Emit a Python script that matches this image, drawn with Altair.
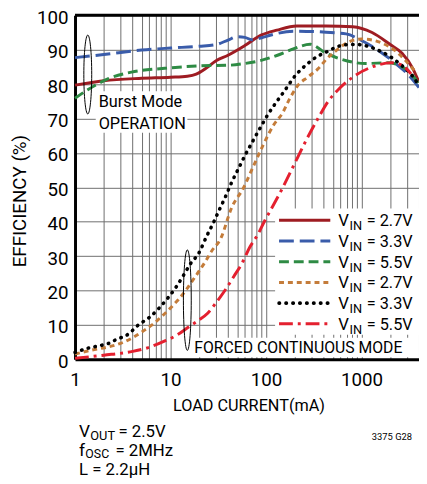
import altair as alt
import pandas as pd

FONT = "Roboto, Liberation Sans, sans-serif"

# ---------------- data ----------------
series_names = ["2.7V Burst", "3.3V Burst", "5.5V Burst",
                "2.7V Forced", "3.3V Forced", "5.5V Forced"]
legend_vin = ["2.7V", "3.3V", "5.5V", "2.7V", "3.3V", "5.5V"]

i_b27 = [1, 2, 5, 10, 15, 18.6, 23.5, 30, 40, 60, 90, 130, 210, 425, 810, 1290, 2000, 2660, 3440, 4000]
e_b27 = [79.7, 81, 81.7, 82, 82.3, 82.9, 84.6, 86.8, 88.4, 91.2, 94.3, 95.7, 96.9, 96.9, 96.7, 95, 91.5, 89, 84.6, 80.5]

i_b33 = [1, 2, 5, 10, 20, 30, 40, 50, 60, 71, 90, 113, 195, 425, 690, 1000, 1500, 2230, 3100, 4000]
e_b33 = [87.7, 88.6, 89.9, 90.5, 91, 91.5, 92.8, 93.8, 93.6, 92.9, 93.5, 94.3, 95.4, 95.1, 94.6, 92.7, 89.8, 86.2, 82.7, 79]

i_b55 = [1, 1.4, 2.2, 3.9, 8.7, 20, 41, 60, 89, 132, 196, 290, 430, 590, 1100, 1900, 2450, 3200, 4000]
e_b55 = [75.9, 78.6, 81.5, 83.5, 84.6, 85.3, 85.5, 86, 86.9, 88.4, 90.3, 91.6, 88.9, 87.4, 86, 86.2, 85.5, 83.5, 80]

i_f27 = [1, 1.5, 2.23, 3.3, 5.1, 6.4, 8.1, 9.9, 12.1, 14.5, 17.2, 20.1, 23.5, 27, 33.4, 44, 58, 73.4, 93,
         122, 149, 175, 211, 279, 355, 430, 535, 640, 810, 1000, 1300, 1650, 2230, 2970, 3800]
e_f27 = [1.5, 2.7, 3.6, 5.1, 8.1, 10, 12.5, 14.8, 17.4, 20.1, 23.1, 25.8, 28.7, 31.5, 35, 44.3, 49.8, 56, 62.2,
         68.4, 71.6, 75.5, 79.3, 82.2, 84.6, 87.3, 89.6, 91.3, 92.7, 93.1, 92.8, 91.9, 89.8, 86.5, 83.1]

i_f33 = [1, 1.39, 1.76, 2.23, 2.82, 3.43, 4.0, 4.52, 5.96, 7.42, 9.3, 11.3, 13.6, 16.1, 19.8, 24, 27.9,
         32.2, 37.1, 44.1, 51.6, 60.3, 71.6, 89.5, 106, 127, 155, 203, 256, 338, 448, 545, 740, 920,
         1200, 1650, 2150, 2750, 3340, 3850]
e_f33 = [2, 3.3, 3.9, 4.6, 6, 6.9, 8.4, 9.8, 12.1, 14.6, 17.7, 20.8, 24.3, 27.7, 30.9, 35.9, 39.5,
         43.3, 46.9, 51.7, 55.5, 59.3, 63.1, 67.9, 71.4, 74.6, 77.9, 82.5, 85.3, 87.9, 89.6, 90.8, 91.5, 91.5,
         90.9, 89.3, 87.4, 85, 82.7, 80.3]

i_f55 = [1, 2, 4, 6, 8.5, 11.6, 15.3, 19.3, 24.5, 31, 37.7, 46, 56, 68, 83, 97, 113, 149, 196, 268,
         355, 448, 590, 808, 1290, 2060, 2660, 3300]
e_f55 = [0.3, 1.2, 2.3, 3.5, 5.2, 7, 9.3, 11.2, 13.4, 17, 20.3, 24.1, 27.9, 32.7, 36.5, 40.3, 43.6, 49.8, 56.5, 64.1,
         70.3, 75, 78.8, 82, 85, 86.2, 85.5, 83]

xs = [i_b27, i_b33, i_b55, i_f27, i_f33, i_f55]
ys = [e_b27, e_b33, e_b55, e_f27, e_f33, e_f55]

grid_x = [1, 2, 3, 4, 5, 6, 7, 8, 9, 10, 20, 30, 40, 50, 60, 70, 80, 90,
          100, 200, 300, 400, 500, 600, 700, 800, 900, 1000, 2000, 3000, 4000]
grid_y = [0, 10, 20, 30, 40, 50, 60, 70, 80, 90, 100]

# ---------------- styles ----------------
colors = ["#9E1C22", "#3A5CAA", "#2E8B44", "#C47C3A", "#000000", "#E4202F"]
dashes = [None, [15, 6], [10, 5], [5, 4], [0.5, 6.5], [14, 5, 3, 5]]
caps = ["butt", "butt", "butt", "butt", "round", "butt"]
widths = [3, 3, 3, 3, 3.6, 3]

W, H = 349, 349

rows = []
for name, cx, cy in zip(series_names, xs, ys):
    for a, b in zip(cx, cy):
        rows.append({"series": name, "current": a, "eff": b})
df = pd.DataFrame(rows)

x_enc = alt.X(
    "current:Q",
    scale=alt.Scale(type="log", domain=[1, 4000], nice=False),
    axis=alt.Axis(
        values=grid_x,
        labelExpr="(datum.value == 1 || datum.value == 10 || datum.value == 100 || datum.value == 1000) ? format(datum.value, 'd') : ''",
        labelOverlap=False, labelBound=False, labelFlush=False,
        ticks=False, labelFont=FONT, labelFontSize=19, labelColor="black", labelPadding=12,
        domainColor="black", domainWidth=3, gridColor="#6e6e6e", gridWidth=1,
        title="LOAD CURRENT(mA)", titleFont=FONT, titleFontSize=16.5, titleFontWeight="normal",
        titleColor="black", titleX=176, titleY=47, titleAlign="center", titleBaseline="middle",
    ),
)
y_enc = alt.Y(
    "eff:Q",
    scale=alt.Scale(domain=[0, 100], nice=False),
    axis=alt.Axis(
        values=grid_y, ticks=False, labelFont=FONT, labelFontSize=19, labelColor="black",
        labelPadding=7, labelOffset=2, labelOverlap=False, labelFlush=False,
        domainColor="black", domainWidth=3, gridColor="#6e6e6e", gridWidth=1,
        title="EFFICIENCY (%)", titleFont=FONT, titleFontSize=19, titleFontWeight="normal",
        titleColor="black", titleX=-56, titleY=188, titleAngle=270,
        titleAlign="center", titleBaseline="middle",
    ),
)

one = pd.DataFrame({"k": [0]})


def box(x1, x2, y1, y2):
    return alt.Chart(one).mark_rect(fill="white", stroke=None).encode(
        x=alt.value(x1), x2=alt.value(x2), y=alt.value(y1), y2=alt.value(y2))


def txt(x, y, s, size=16, align="left"):
    return alt.Chart(one).mark_text(
        text=s, font=FONT, fontSize=size, align=align, baseline="alphabetic", color="black"
    ).encode(x=alt.value(x), y=alt.value(y))


layers = []
# white backgrounds behind annotations / legend
layers.append(box(21, 114, 77, 119))
layers.append(box(203, W, 196, 324))
layers.append(box(118, 346, 327, 347))

# curves
for k, name in enumerate(series_names):
    mk = dict(color=colors[k], strokeWidth=widths[k], interpolate="monotone", strokeCap=caps[k])
    if dashes[k] is not None:
        mk["strokeDash"] = dashes[k]
    layers.append(
        alt.Chart(df).transform_filter(alt.datum.series == name).mark_line(**mk).encode(x=x_enc, y=y_enc)
    )

# top border
layers.append(alt.Chart(one).mark_rule(color="black", strokeWidth=3).encode(
    x=alt.value(0), x2=alt.value(W), y=alt.value(0)))

# ellipses (annotation markers)
ell = "M0,-1 C0.055,-1 0.1,-0.55 0.1,0 C0.1,0.55 0.055,1 0,1 C-0.055,1 -0.1,0.55 -0.1,0 C-0.1,-0.55 -0.055,-1 0,-1 Z"
ell2 = "M0,-1 C0.043,-1 0.078,-0.55 0.078,0 C0.078,0.55 0.043,1 0,1 C-0.043,1 -0.078,0.55 -0.078,0 C-0.078,-0.55 -0.043,-1 0,-1 Z"
layers.append(alt.Chart(pd.DataFrame({"current": [1.36], "eff": [82.8]})).mark_point(
    shape=ell, filled=False, stroke="black", strokeWidth=1, size=6400, opacity=1).encode(x=x_enc, y=y_enc))
layers.append(alt.Chart(pd.DataFrame({"current": [15], "eff": [17.2]})).mark_point(
    shape=ell2, filled=False, stroke="black", strokeWidth=1, size=10404, opacity=1).encode(x=x_enc, y=y_enc))

# annotation text
layers.append(txt(24, 93, "Burst Mode", 16.5))
layers.append(txt(24, 115, "OPERATION", 16.5))
layers.append(txt(121, 343, "FORCED CONTINUOUS MODE", 16))

# legend
row_y = [208, 229, 250, 271, 292, 313]
for k in range(6):
    r = row_y[k]
    mk = dict(color=colors[k], strokeWidth=widths[k], strokeCap=caps[k])
    if dashes[k] is not None:
        mk["strokeDash"] = dashes[k]
    layers.append(alt.Chart(one).mark_rule(**mk).encode(
        x=alt.value(207), x2=alt.value(259), y=alt.value(r)))
    layers.append(txt(267, r + 6, "V", 17))
    layers.append(txt(278.5, r + 10, "IN", 13))
    layers.append(txt(296, r + 6, "= " + legend_vin[k], 16.5))

# footnotes
layers.append(txt(4, 428, "V", 17.5))
layers.append(txt(15.5, 431, "OUT", 13))
layers.append(txt(44, 428, "= 2.5V", 17))
layers.append(txt(4, 447, "f", 17.5))
layers.append(txt(10.5, 449, "OSC", 12.5))
layers.append(txt(41, 447, "= 2MHz", 17))
layers.append(txt(4, 466, "L = 2.2μH", 17))
layers.append(txt(342, 431, "3375 G28", 9.5, align="right"))

chart = alt.layer(*layers).properties(
    width=W, height=H,
    autosize=alt.AutoSizeParams(type="none"),
    padding={"left": 68, "top": 4, "right": 0, "bottom": 119},
).configure_view(stroke=None)

chart.save("out.html", embed_options={"renderer": "svg", "actions": False})
